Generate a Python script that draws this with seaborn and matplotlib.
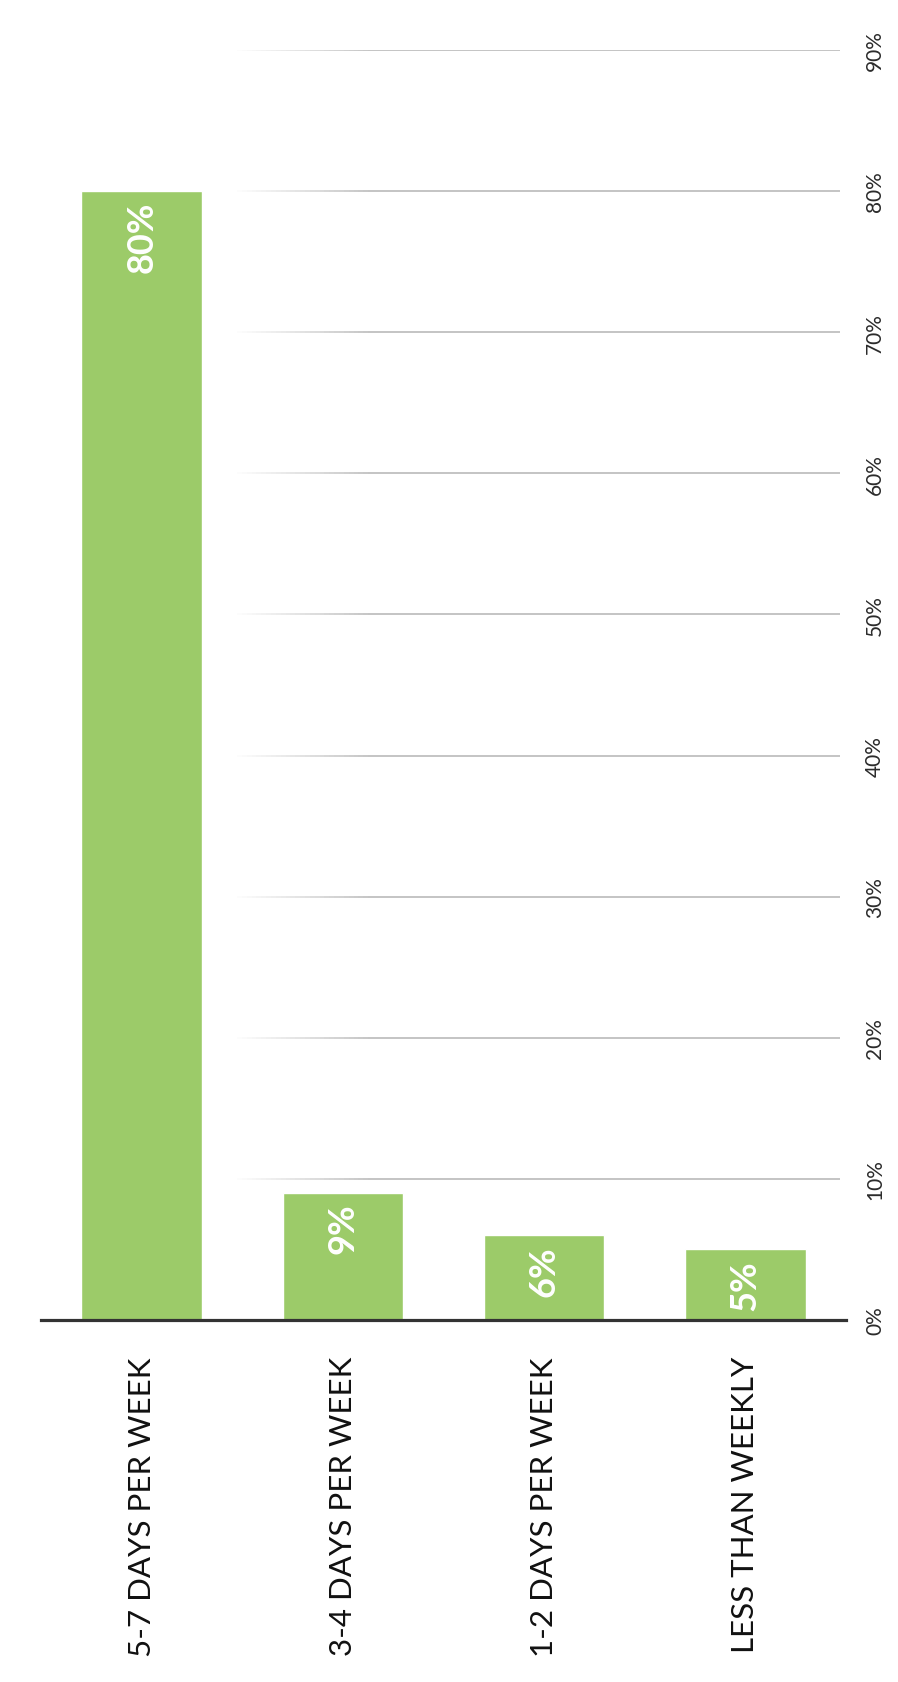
import matplotlib
matplotlib.use("Agg")
import matplotlib.pyplot as plt
from matplotlib.collections import LineCollection
import numpy as np
import pandas as pd
import seaborn as sns

# How often respondents do it, share of answers in percent
categories = ["5-7 DAYS PER WEEK", "3-4 DAYS PER WEEK", "1-2 DAYS PER WEEK", "LESS THAN WEEKLY"]
shares = [80, 9, 6, 5]
value_ticks = [0, 10, 20, 30, 40, 50, 60, 70, 80, 90]
value_tick_labels = [f"{v}%" for v in value_ticks]

BAR_GREEN = "#9CCB69"
GRID_GREY = "#c4c4c4"
AXIS_DARK = "#333333"
TEXT_DARK = "#2b2b2b"

sns.set_theme(style="white")
plt.rcParams["font.family"] = ["Lato", "DejaVu Sans"]

W, H = 898, 1683
fig = plt.figure(figsize=(W / 100, H / 100), dpi=100)
fig.patch.set_facecolor("white")
ax = fig.add_axes([41 / W, (H - 1321) / H, 805 / W, 1270 / H])

df = pd.DataFrame({"frequency": categories, "share": shares})
sns.barplot(data=df, x="frequency", y="share", color=BAR_GREEN, saturation=1,
            width=0.6, ax=ax, zorder=2)

ax.set_xlim(-0.5, 3.5)
ax.set_ylim(0, 90)
ax.set_xlabel("")
ax.set_ylabel("")

# Value axis on the right, labels turned with the chart
ax.yaxis.tick_right()
ax.set_yticks(value_ticks)
ax.set_yticklabels(value_tick_labels, rotation=90, ha="center", va="center",
                   fontsize=15, color=TEXT_DARK)
ax.tick_params(axis="y", length=0, pad=21)

# Category labels under each bar, reading upward
ax.set_xticks(range(len(categories)))
ax.set_xticklabels(categories, rotation=90, ha="center", va="top",
                   fontsize=22.5, color="#111111")
ax.tick_params(axis="x", length=0, pad=26)

for side in ["top", "left", "right"]:
    ax.spines[side].set_visible(False)
ax.spines["bottom"].set_color(AXIS_DARK)
ax.spines["bottom"].set_linewidth(2.3)
ax.spines["bottom"].set_zorder(4)

# Gridlines that fade in from the left, drawn behind the bars
x_fade = np.linspace(0.45, 1.15, 30)
for v in value_ticks[1:]:
    segs = [[(x_fade[i], v), (x_fade[i + 1], v)] for i in range(len(x_fade) - 1)]
    alphas = np.linspace(0.0, 1.0, len(segs))
    cols = [(0.77, 0.77, 0.77, a) for a in alphas]
    ax.add_collection(LineCollection(segs, colors=cols, linewidths=1.4, zorder=1))
    ax.plot([1.15, 3.47], [v, v], color=GRID_GREY, lw=1.4, zorder=1,
            solid_capstyle="butt")

# Value labels inside the bar ends
for i, v in enumerate(shares):
    ax.annotate(f"{v}%", xy=(i, v), xytext=(0, -7), textcoords="offset points",
                rotation=90, ha="center", va="top", color="white",
                fontsize=26, fontweight="bold", zorder=5)

fig.savefig("out.png", dpi=100, facecolor="white")
